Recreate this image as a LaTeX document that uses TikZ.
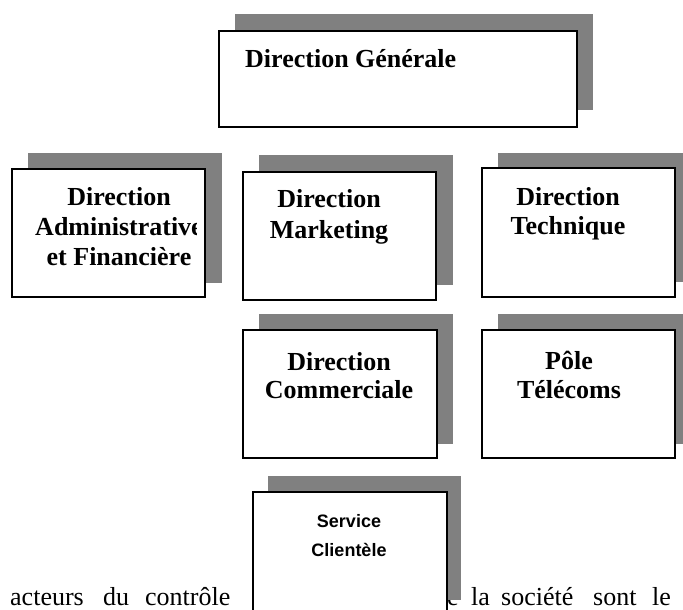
\documentclass[tikz,border=0pt]{standalone}
\usepackage{fontspec}
\setmainfont{Liberation Serif}
\newfontfamily\sansbold{Liberation Sans}[BoldFont={* Bold}]
\begin{document}
\begin{tikzpicture}[x=1pt,y=-1pt,
  shadowbox/.style={fill=black!50, draw=none},
  unitbox/.style={draw=black, line width=1.4pt, fill=white},
  title/.style={inner sep=0pt, anchor=base, font=\fontsize{26}{30}\selectfont\bfseries},
  sanstitle/.style={inner sep=0pt, anchor=base, font=\fontsize{18}{21}\selectfont\sansbold\bfseries},
  body/.style={inner sep=0pt, anchor=base west, font=\fontsize{26}{30}\selectfont}
]
\useasboundingbox (0,0) rectangle (683,610);
\clip (0,0) rectangle (683,610);

% running text of the page, partly hidden by the last box
\node[body] (w1) at (10,605) {acteurs};
\node[body] (w2) at (103,605) {du};
\node[body] (w3) at (145,605) {contrôle};
\node[body] (w4) at (434,605) {de};
\node[body] (w5) at (471,605) {la};
\node[body] (w6) at (501,605) {société};
\node[body] (w7) at (593,605) {sont};
\node[body] (w8) at (652,605) {le};

% Direction Générale
\fill[shadowbox] (235,14) rectangle (593,110);
\draw[unitbox] (219,31) rectangle (577,127);
\node[title, anchor=base west] (dg) at (245,68) {Direction Générale};

% Direction Administrative et Financière
\fill[shadowbox] (28,153) rectangle (222,283);
\draw[unitbox] (12,169) rectangle (205,297);
\begin{scope}
  \clip (14,171) rectangle (196,295);
  \node[title] (daf1) at (119,205) {Direction};
  \node[title] (daf2) at (119,235) {Administrative};
  \node[title] (daf3) at (119,265) {et Financière};
\end{scope}

% Direction Marketing
\fill[shadowbox] (259,155) rectangle (453,285);
\draw[unitbox] (243,172) rectangle (436,300);
\node[title] (dm1) at (329,207) {Direction};
\node[title] (dm2) at (329,238) {Marketing};

% Direction Technique
\fill[shadowbox] (498,153) rectangle (691,282);
\draw[unitbox] (482,168) rectangle (675,297);
\node[title] (dt1) at (568,205) {Direction};
\node[title] (dt2) at (568,234) {Technique};

% Direction Commerciale
\fill[shadowbox] (259,314) rectangle (453,444);
\draw[unitbox] (243,330) rectangle (437,458);
\node[title] (dc1) at (339,370) {Direction};
\node[title] (dc2) at (339,398) {Commerciale};

% Pôle Télécoms
\fill[shadowbox] (498,314) rectangle (691,444);
\draw[unitbox] (482,330) rectangle (675,458);
\node[title] (pt1) at (569,369) {Pôle};
\node[title] (pt2) at (569,398) {Télécoms};

% Service Clientèle
\fill[shadowbox] (268,476) rectangle (461,600);
\draw[unitbox] (253,492) rectangle (447,640);
\node[sanstitle] (sc1) at (349,527) {Service};
\node[sanstitle] (sc2) at (349,556) {Clientèle};
\end{tikzpicture}
\end{document}
